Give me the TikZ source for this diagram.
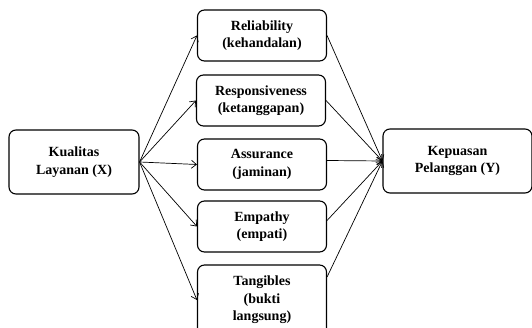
\documentclass[tikz,border=0pt]{standalone}
\usepackage{fontspec}
\setmainfont{Liberation Serif}
\usetikzlibrary{arrows.meta}
\begin{document}
\begin{tikzpicture}[x=1pt, y=-1pt]
    \tikzset{box/.style={draw, line width=1.1pt, rounded corners=7pt, align=center,
                 font=\bfseries\fontsize{14}{17.5}\selectfont, inner sep=2pt},
             dim/.style={box, minimum width=129pt, minimum height=51pt},
             link/.style={line width=0.7pt, -{Straight Barb[length=5pt, width=8pt]}}}
    \useasboundingbox (0, 0) rectangle (532, 328);
    % kiri dan kanan
    \node[box, minimum width=130pt, minimum height=64pt] (kualitas) at (74, 162) {Kualitas\\Layanan (X)};
    \node[box, minimum width=149pt, minimum height=64pt] (kepuasan) at (457.5, 161) {Kepuasan\\Pelanggan (Y)};
    % dimensi
    \node[dim] (rel) at (262, 35.5) {Reliability\\(kehandalan)};
    \node[dim] (resp) at (261, 100.5) {Responsiveness\\(ketanggapan)};
    \node[dim] (assur) at (262, 164.5) {Assurance\\(jaminan)};
    \node[dim] (emp) at (262, 226.5) {Empathy\\(empati)};
    \node[dim, minimum height=70pt] (tang) at (262, 300) {Tangibles\\(bukti\\langsung)};
    \coordinate (masuk) at (kepuasan.west);
    \foreach \d in {rel, resp, assur, emp, tang} {
        \draw[link] (kualitas.east) -- (\d.west);
    }
    \draw[link] (rel.east) -- (masuk);
    \draw[link] (resp.east) -- (masuk);
    \draw[link] (assur.east) ++(0, -4) -- (masuk);
    \draw[link] (emp.east) ++(0, -6) -- (masuk);
    \draw[link] (tang.east) ++(0, -23) -- (masuk);
\end{tikzpicture}
\end{document}
